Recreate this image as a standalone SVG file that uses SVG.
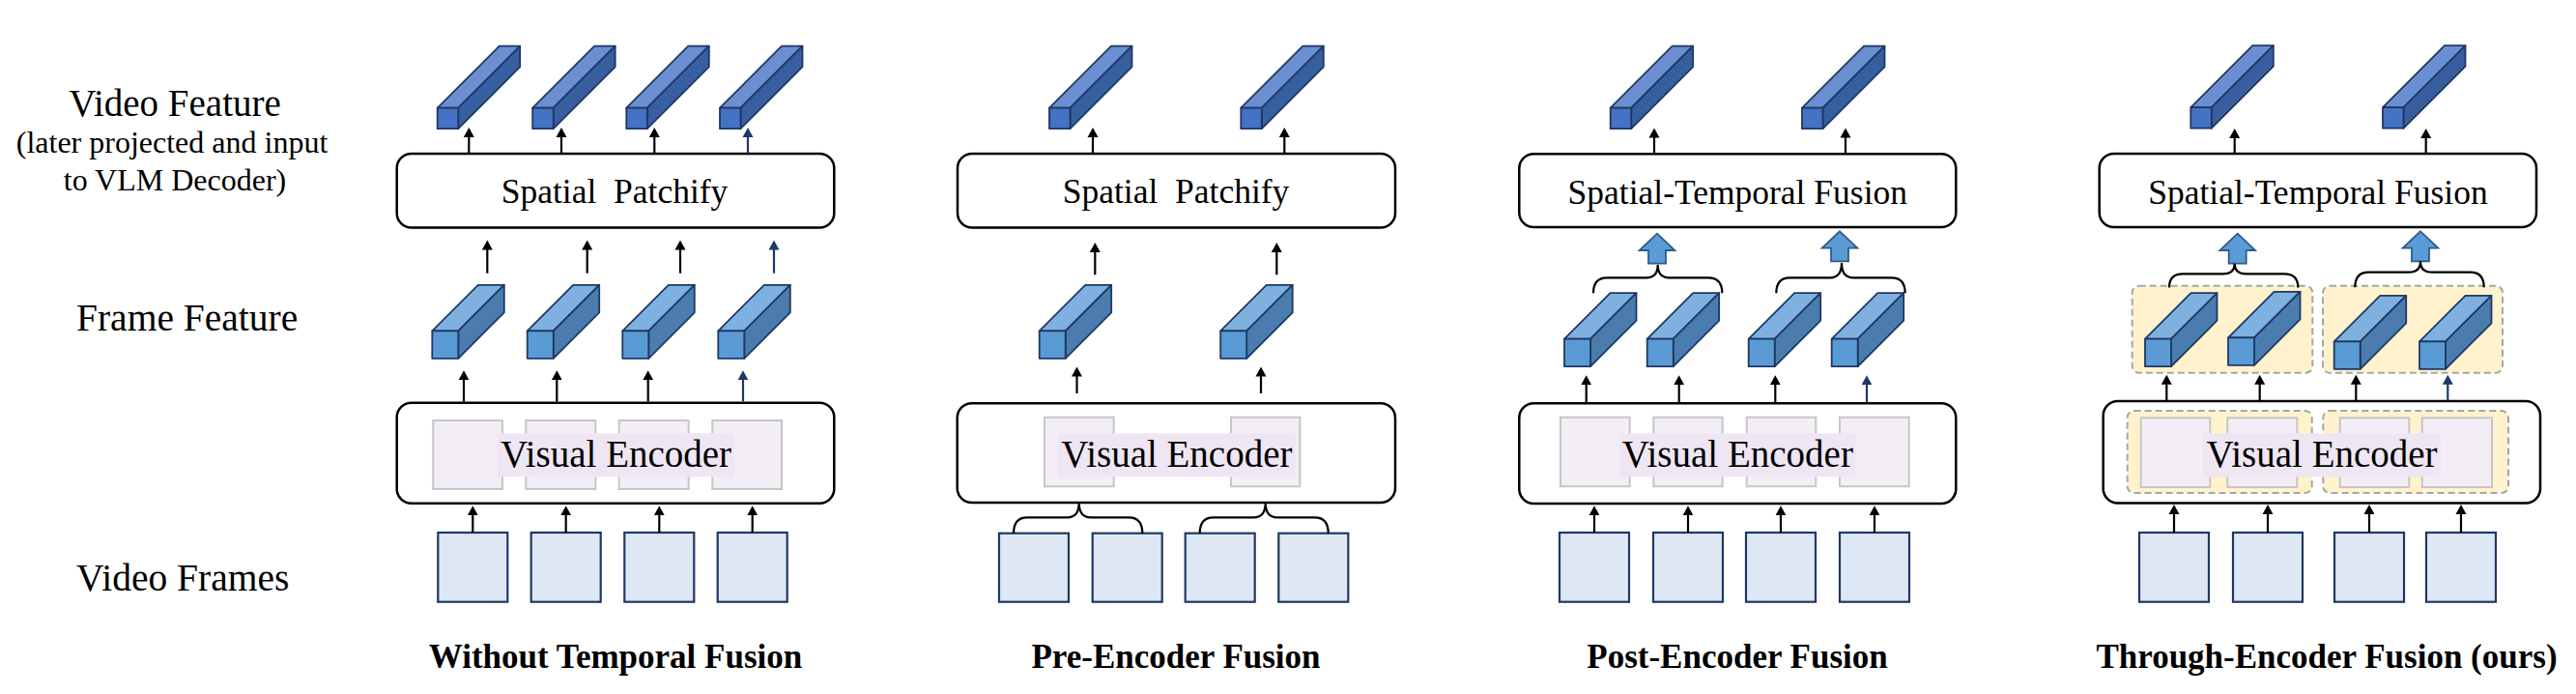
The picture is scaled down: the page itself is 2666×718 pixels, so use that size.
<svg xmlns="http://www.w3.org/2000/svg" xmlns:xlink="http://www.w3.org/1999/xlink" width="2666" height="718" viewBox="0 0 2666 718">
<style>
.t{font-family:"Liberation Serif","Times New Roman",serif;fill:#000}
.b{font-weight:bold}
.box{fill:#fff;stroke:#000;stroke-width:2.5}
.inner{fill:#F3EEF6;stroke:#C6C6C6;stroke-width:2}
.tbg{fill:#EEE6F3}
.frame{fill:#DEE8F5;stroke:#1F3864;stroke-width:2.2}
.grp{fill:#FFF2CC;stroke:#A6A6A6;stroke-width:2;stroke-dasharray:7 4}
.arr{stroke:#000;stroke-width:2.2;fill:none;marker-end:url(#ak)}
.arrn{stroke:#1F3864;stroke-width:2.2;fill:none;marker-end:url(#an)}
.brace{stroke:#000;stroke-width:2.2;fill:none}
.cs{stroke:#1F3864;stroke-width:1.8;stroke-linejoin:round}
.vtop{fill:#6B8FD1}.vside{fill:#365FA0}.vfront{fill:#4472C4}
.ftop{fill:#7EB1DF}.fside{fill:#4A7DAD}.ffront{fill:#5A9BD5}
.blk{fill:#5B9BD5;stroke:#2E5B8C;stroke-width:1.8;stroke-linejoin:miter}
</style>
<defs>
<marker id="ak" markerUnits="userSpaceOnUse" markerWidth="12" markerHeight="12" refX="5" refY="6" orient="auto"><path d="M0,0.5 L10,6 L0,11.5 Z" fill="#000"/></marker>
<marker id="an" markerUnits="userSpaceOnUse" markerWidth="12" markerHeight="12" refX="5" refY="6" orient="auto"><path d="M0,0.5 L10,6 L0,11.5 Z" fill="#1F3864"/></marker>
<g id="vcube" class="cs"><path class="vtop" d="M0,0 L64,-64 L85.5,-64 L21.5,0 Z"/><path class="vside" d="M21.5,0 L85.5,-64 L85.5,-42.5 L21.5,21.5 Z"/><rect class="vfront" x="0" y="0" width="21.5" height="21.5"/></g>
<g id="fcube" class="cs"><path class="ftop" d="M0,0 L47.5,-47.5 L74.5,-47.5 L27,0 Z"/><path class="fside" d="M27,0 L74.5,-47.5 L74.5,-19 L27,28.5 Z"/><rect class="ffront" x="0" y="0" width="27" height="28.5"/></g>
<path id="barrow" class="blk" d="M0,0 L18.3,17.3 L9,17.3 L9,31 L-9,31 L-9,17.3 L-18.3,17.3 Z"/>
</defs>
<rect width="2666" height="718" fill="#fff"/>

<g id="row-labels">
<text class="t" x="181" y="120" font-size="39" text-anchor="middle">Video Feature</text>
<text class="t" x="178" y="158.3" font-size="32" text-anchor="middle">(later projected and input</text>
<text class="t" x="181" y="196.7" font-size="32" text-anchor="middle">to VLM Decoder)</text>
<text class="t" x="79" y="342.3" font-size="39.5">Frame Feature</text>
<text class="t" x="79" y="610.7" font-size="39.5">Video Frames</text>
</g>

<!-- Panel 1 -->
<g id="p1-video-features">
<use xlink:href="#vcube" x="452.7" y="111.7"/><use xlink:href="#vcube" x="551.2" y="111.7"/><use xlink:href="#vcube" x="648.3" y="111.7"/><use xlink:href="#vcube" x="745" y="111.7"/>
</g>
<g id="p1-patchify">
<rect class="box" x="410.7" y="159" width="452.6" height="76.5" rx="15"/>
<text class="t" x="636" y="210" font-size="35.5" text-anchor="middle" style="white-space:pre">Spatial  Patchify</text>
</g>
<g id="p1-frame-features">
<use xlink:href="#fcube" x="447.3" y="342.3"/><use xlink:href="#fcube" x="545.7" y="342.3"/><use xlink:href="#fcube" x="644.3" y="342.3"/><use xlink:href="#fcube" x="743.3" y="342.3"/>
</g>
<g id="p1-encoder">
<rect class="box" x="410.7" y="416.7" width="452.6" height="104" rx="15"/>
<rect class="inner" x="448.3" y="435" width="71.7" height="71"/><rect class="inner" x="544.3" y="435" width="72" height="71"/><rect class="inner" x="640.7" y="435" width="72" height="71"/><rect class="inner" x="737.3" y="435" width="71.7" height="71"/>
<rect class="tbg" x="515" y="448.3" width="245" height="45"/>
<text class="t" x="637.5" y="483.3" font-size="39" text-anchor="middle">Visual Encoder</text>
</g>
<g id="p1-frames">
<rect class="frame" x="453.3" y="551" width="72" height="71.7"/><rect class="frame" x="549.7" y="551" width="72" height="71.7"/><rect class="frame" x="646.3" y="551" width="72" height="71.7"/><rect class="frame" x="742.7" y="551" width="72" height="71.7"/>
</g>
<text id="p1-title" class="t b" x="637" y="691" font-size="35" text-anchor="middle">Without Temporal Fusion</text>

<!-- Panel 2 -->
<g id="p2-video-features">
<use xlink:href="#vcube" x="1086" y="111.7"/><use xlink:href="#vcube" x="1284.3" y="111.7"/>
</g>
<g id="p2-patchify">
<rect class="box" x="991" y="159" width="453" height="76.5" rx="15"/>
<text class="t" x="1217" y="210" font-size="35.5" text-anchor="middle" style="white-space:pre">Spatial  Patchify</text>
</g>
<g id="p2-frame-features">
<use xlink:href="#fcube" x="1075.7" y="342.3"/><use xlink:href="#fcube" x="1263.2" y="342.3"/>
</g>
<g id="p2-encoder">
<rect class="box" x="990.7" y="417.3" width="453.3" height="102.7" rx="15"/>
<rect class="inner" x="1081" y="431.7" width="71.7" height="71.6"/><rect class="inner" x="1274" y="431.7" width="71.3" height="71.6"/>
<rect class="tbg" x="1095" y="448.3" width="245.7" height="45"/>
<text class="t" x="1217.9" y="483.3" font-size="39" text-anchor="middle">Visual Encoder</text>
</g>
<g id="p2-frames">
<rect class="frame" x="1034" y="551.7" width="72" height="71"/><rect class="frame" x="1130.7" y="551.7" width="72" height="71"/><rect class="frame" x="1226.7" y="551.7" width="72" height="71"/><rect class="frame" x="1323.3" y="551.7" width="72" height="71"/>
</g>
<text id="p2-title" class="t b" x="1217" y="691" font-size="35" text-anchor="middle">Pre-Encoder Fusion</text>

<!-- Panel 3 -->
<g id="p3-video-features">
<use xlink:href="#vcube" x="1666.7" y="111.7"/><use xlink:href="#vcube" x="1865" y="111.7"/>
</g>
<g id="p3-fusion">
<rect class="box" x="1572.3" y="159.3" width="452" height="75.7" rx="15"/>
<text class="t" x="1798.3" y="210.5" font-size="35.5" text-anchor="middle">Spatial-Temporal Fusion</text>
</g>
<g id="p3-frame-features">
<use xlink:href="#fcube" x="1619" y="350.7"/><use xlink:href="#fcube" x="1704.7" y="350.7"/><use xlink:href="#fcube" x="1809.7" y="350.7"/><use xlink:href="#fcube" x="1895.7" y="350.7"/>
</g>
<g id="p3-encoder">
<rect class="box" x="1572.3" y="417.3" width="452" height="103.7" rx="15"/>
<rect class="inner" x="1615" y="431.7" width="71.7" height="71.5"/><rect class="inner" x="1711.3" y="431.7" width="71.4" height="71.5"/><rect class="inner" x="1807.7" y="431.7" width="71.6" height="71.5"/><rect class="inner" x="1904" y="431.7" width="71.7" height="71.5"/>
<rect class="tbg" x="1676" y="448.3" width="244.7" height="45"/>
<text class="t" x="1798.3" y="483.3" font-size="39" text-anchor="middle">Visual Encoder</text>
</g>
<g id="p3-frames">
<rect class="frame" x="1614" y="551" width="72" height="71.7"/><rect class="frame" x="1711" y="551" width="72" height="71.7"/><rect class="frame" x="1807" y="551" width="72" height="71.7"/><rect class="frame" x="1904" y="551" width="72" height="71.7"/>
</g>
<text id="p3-title" class="t b" x="1798" y="691" font-size="35" text-anchor="middle">Post-Encoder Fusion</text>

<!-- Panel 4 -->
<g id="p4-video-features">
<use xlink:href="#vcube" x="2267.3" y="111.2"/><use xlink:href="#vcube" x="2466" y="111.2"/>
</g>
<g id="p4-fusion">
<rect class="box" x="2172.7" y="159" width="452.3" height="76" rx="15"/>
<text class="t" x="2399" y="210.5" font-size="35.5" text-anchor="middle">Spatial-Temporal Fusion</text>
</g>
<g id="p4-frame-features">
<rect class="grp" x="2206.7" y="295.7" width="186.6" height="90" rx="7"/>
<rect class="grp" x="2404" y="295.7" width="186" height="90" rx="7"/>
<use xlink:href="#fcube" x="2220" y="350.7"/><use xlink:href="#fcube" x="2306" y="349.3"/><use xlink:href="#fcube" x="2415.7" y="353.3"/><use xlink:href="#fcube" x="2504" y="353.3"/>
</g>
<g id="p4-encoder">
<rect class="box" x="2176.7" y="415" width="452.3" height="105.5" rx="15"/>
<rect class="grp" x="2201.7" y="425" width="191" height="85" rx="7"/>
<rect class="grp" x="2404.3" y="425" width="191.7" height="85" rx="7"/>
<rect class="inner" x="2215.7" y="432.3" width="71.6" height="71.7"/><rect class="inner" x="2305.3" y="432.3" width="72" height="71.7"/><rect class="inner" x="2421.7" y="432.3" width="71.6" height="71.7"/><rect class="inner" x="2506.7" y="432.3" width="72.3" height="71.7"/>
<rect class="tbg" x="2280" y="448.3" width="246" height="45"/>
<text class="t" x="2403" y="483.3" font-size="39" text-anchor="middle">Visual Encoder</text>
</g>
<g id="p4-frames">
<rect class="frame" x="2214" y="551" width="72" height="71.7"/><rect class="frame" x="2311" y="551" width="72" height="71.7"/><rect class="frame" x="2416" y="551" width="72" height="71.7"/><rect class="frame" x="2511" y="551" width="72" height="71.7"/>
</g>
<text id="p4-title" class="t b" x="2408" y="691" font-size="35" text-anchor="middle">Through-Encoder Fusion (ours)</text>

<g id="connectors">
<!-- panel 1 -->
<line class="arr" x1="485.3" y1="159" x2="485.3" y2="137"/><line class="arr" x1="581" y1="159" x2="581" y2="137"/><line class="arr" x1="677.3" y1="159" x2="677.3" y2="137"/><line class="arrn" x1="774" y1="159" x2="774" y2="137"/>
<line class="arr" x1="504.3" y1="282.7" x2="504.3" y2="253.5"/><line class="arr" x1="607.7" y1="282.7" x2="607.7" y2="253.5"/><line class="arr" x1="704" y1="282.7" x2="704" y2="253.5"/><line class="arrn" x1="801" y1="282.7" x2="801" y2="253.5"/>
<line class="arr" x1="480" y1="415.5" x2="480" y2="388.3"/><line class="arr" x1="576.3" y1="415.5" x2="576.3" y2="388.3"/><line class="arr" x1="670.7" y1="415.5" x2="670.7" y2="388.3"/><line class="arrn" x1="769" y1="415.5" x2="769" y2="388.3"/>
<line class="arr" x1="489.3" y1="551" x2="489.3" y2="528.3"/><line class="arr" x1="585.7" y1="551" x2="585.7" y2="528.3"/><line class="arr" x1="682.3" y1="551" x2="682.3" y2="528.3"/><line class="arr" x1="778.7" y1="551" x2="778.7" y2="528.3"/>
<!-- panel 2 -->
<line class="arr" x1="1131" y1="159" x2="1131" y2="137"/><line class="arr" x1="1329.3" y1="159" x2="1329.3" y2="137"/>
<line class="arr" x1="1133.3" y1="284.3" x2="1133.3" y2="256"/><line class="arr" x1="1321.3" y1="284.3" x2="1321.3" y2="256"/>
<line class="arr" x1="1114.5" y1="407" x2="1114.5" y2="384.5"/><line class="arr" x1="1305" y1="407" x2="1305" y2="384.5"/>
<path class="brace" d="M1049,551.7 Q1049,535.3 1063,535.3 H1104.7 Q1116.7,535.3 1116.7,520 Q1116.7,535.3 1128.7,535.3 H1168.3 Q1182.3,535.3 1182.3,551.7"/>
<path class="brace" d="M1241.7,551.7 Q1241.7,535.3 1255.7,535.3 H1297.7 Q1309.7,535.3 1309.7,520 Q1309.7,535.3 1321.7,535.3 H1360.7 Q1374.7,535.3 1374.7,551.7"/>
<!-- panel 3 -->
<line class="arr" x1="1712" y1="159.3" x2="1712" y2="137.5"/><line class="arr" x1="1910" y1="159.3" x2="1910" y2="137.5"/>
<use xlink:href="#barrow" x="1715" y="241.7"/><use xlink:href="#barrow" x="1904" y="239.3"/>
<path class="brace" d="M1649,303.3 Q1649,287.3 1663,287.3 H1703.7 Q1715.7,287.3 1715.7,274 Q1715.7,287.3 1727.7,287.3 H1768.3 Q1782.3,287.3 1782.3,303.3"/>
<path class="brace" d="M1838.3,303.3 Q1838.3,287.3 1852.3,287.3 H1894 Q1906,287.3 1906,272 Q1906,287.3 1918,287.3 H1957.7 Q1971.7,287.3 1971.7,303.3"/>
<line class="arr" x1="1641.7" y1="416" x2="1641.7" y2="393.3"/><line class="arr" x1="1737.7" y1="416" x2="1737.7" y2="393.3"/><line class="arr" x1="1837.3" y1="416" x2="1837.3" y2="393.3"/><line class="arrn" x1="1932" y1="416" x2="1932" y2="393.3"/>
<line class="arr" x1="1650" y1="551" x2="1650" y2="528.3"/><line class="arr" x1="1747" y1="551" x2="1747" y2="528.3"/><line class="arr" x1="1843" y1="551" x2="1843" y2="528.3"/><line class="arr" x1="1940" y1="551" x2="1940" y2="528.3"/>
<!-- panel 4 -->
<line class="arr" x1="2312.7" y1="159" x2="2312.7" y2="138"/><line class="arr" x1="2510.7" y1="159" x2="2510.7" y2="138"/>
<use xlink:href="#barrow" x="2315.7" y="241.7"/><use xlink:href="#barrow" x="2505" y="239.3"/>
<path class="brace" d="M2245,297.5 Q2245,283.3 2259,283.3 H2300.7 Q2312.7,283.3 2312.7,272.7 Q2312.7,283.3 2324.7,283.3 H2364.3 Q2378.3,283.3 2378.3,297.5"/>
<path class="brace" d="M2437.3,297.3 Q2437.3,281.7 2451.3,281.7 H2493 Q2505,281.7 2505,270.3 Q2505,281.7 2517,281.7 H2556.7 Q2570.7,281.7 2570.7,297.3"/>
<line class="arr" x1="2242.3" y1="414" x2="2242.3" y2="392.7"/><line class="arr" x1="2338.7" y1="414" x2="2338.7" y2="392.7"/><line class="arr" x1="2438.3" y1="414" x2="2438.3" y2="392.7"/><line class="arrn" x1="2533.3" y1="414" x2="2533.3" y2="392.7"/>
<line class="arr" x1="2250" y1="551" x2="2250" y2="527"/><line class="arr" x1="2347" y1="551" x2="2347" y2="527"/><line class="arr" x1="2452" y1="551" x2="2452" y2="527"/><line class="arr" x1="2547" y1="551" x2="2547" y2="527"/>
</g>
</svg>
